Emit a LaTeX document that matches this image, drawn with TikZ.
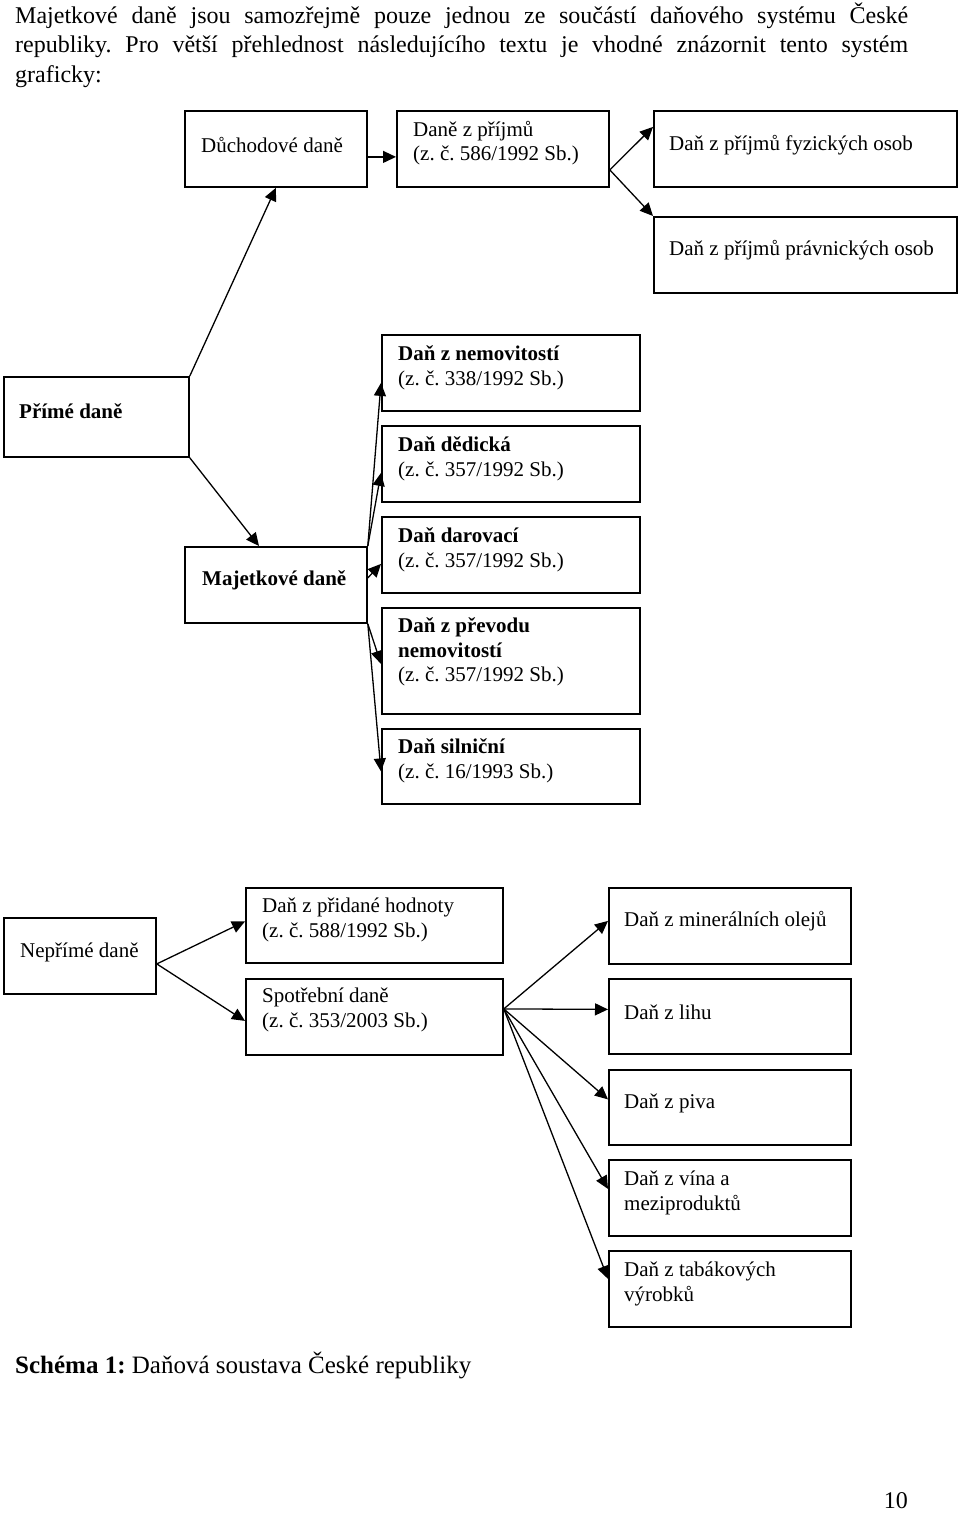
\documentclass[tikz,border=0pt]{standalone}
\usepackage{fontspec}
\setmainfont{Liberation Serif}
\usetikzlibrary{arrows.meta,calc}
\frenchspacing
\begin{document}
\begin{tikzpicture}[x=1pt,y=-1pt,
  box/.style={draw, line width=1.8pt, rectangle, inner sep=0pt, anchor=north west},
  lbl/.style={anchor=west, inner sep=0pt, align=left, font=\fontsize{21}{24.5}\selectfont},
  arr/.style={line width=1.3pt, -{Triangle[length=13pt,width=12pt]}},
  body/.style={anchor=base west, inner sep=0pt, font=\fontsize{24}{29}\selectfont}]
\useasboundingbox (0,0) rectangle (960,1513);

% body text
\node[body] (p1) at (15,23) {\makebox[893pt][s]{Majetkové daně jsou samozřejmě pouze jednou ze součástí daňového systému České}};
\node[body] (p2) at (15,52.5) {\makebox[893pt][s]{republiky. Pro větší přehlednost následujícího textu je vhodné znázornit tento systém}};
\node[body] (p3) at (15,82) {graficky:};

% top row
\node[box, minimum width=182pt, minimum height=76pt] (duch) at (184,110) {};
\node[lbl] (tduch) at ($(duch.north west)+(17,35)$) {Důchodové daně};
\node[box, minimum width=212pt, minimum height=76pt] (dane) at (396,110) {};
\node[lbl] (tdane) at ($(dane.north west)+(17,33)$) {Daně z příjmů\\(z. č. 586/1992 Sb.)};
\node[box, minimum width=303pt, minimum height=76pt] (fyz) at (653,110) {};
\node[lbl] (tfyz) at ($(fyz.north west)+(16,35)$) {Daň z příjmů fyzických osob};
\node[box, minimum width=303pt, minimum height=76pt] (prav) at (653,216) {};
\node[lbl] (tprav) at ($(prav.north west)+(16,34)$) {Daň z příjmů právnických osob};

% direct taxes
\node[box, minimum width=185pt, minimum height=80pt] (prime) at (3,376) {};
\node[lbl] (tprime) at ($(prime.north west)+(16,35)$) {\textbf{Přímé daně}};
\node[box, minimum width=182pt, minimum height=76pt] (majet) at (184,546) {};
\node[lbl] (tmajet) at ($(majet.north west)+(18,34)$) {\textbf{Majetkové daně}};

\node[box, minimum width=258pt, minimum height=76pt] (nem) at (381,334) {};
\node[lbl] (tnem) at ($(nem.north west)+(17,34)$) {\textbf{Daň z nemovitostí}\\(z. č. 338/1992 Sb.)};
\node[box, minimum width=258pt, minimum height=76pt] (ded) at (381,425) {};
\node[lbl] (tded) at ($(ded.north west)+(17,34)$) {\textbf{Daň dědická}\\(z. č. 357/1992 Sb.)};
\node[box, minimum width=258pt, minimum height=76pt] (dar) at (381,516) {};
\node[lbl] (tdar) at ($(dar.north west)+(17,34)$) {\textbf{Daň darovací}\\(z. č. 357/1992 Sb.)};
\node[box, minimum width=258pt, minimum height=106pt] (prev) at (381,607) {};
\node[lbl] (tprev) at ($(prev.north west)+(17,45)$) {\textbf{Daň z převodu}\\\textbf{nemovitostí}\\(z. č. 357/1992 Sb.)};
\node[box, minimum width=258pt, minimum height=75pt] (siln) at (381,728) {};
\node[lbl] (tsiln) at ($(siln.north west)+(17,33)$) {\textbf{Daň silniční}\\(z. č. 16/1993 Sb.)};

% indirect taxes
\node[box, minimum width=152pt, minimum height=76pt] (nep) at (3,917) {};
\node[lbl] (tnep) at ($(nep.north west)+(17,35)$) {Nepřímé daně};
\node[box, minimum width=257pt, minimum height=75pt] (dph) at (245,887) {};
\node[lbl] (tdph) at ($(dph.north west)+(17,33)$) {Daň z přidané hodnoty\\(z. č. 588/1992 Sb.)};
\node[box, minimum width=257pt, minimum height=76pt] (spot) at (245,978) {};
\node[lbl] (tspot) at ($(spot.north west)+(17,32)$) {Spotřební daně\\(z. č. 353/2003 Sb.)};

\node[box, minimum width=242pt, minimum height=76pt] (min) at (608,887) {};
\node[lbl] (tmin) at ($(min.north west)+(16,34)$) {Daň z minerálních olejů};
\node[box, minimum width=242pt, minimum height=75pt] (lih) at (608,978) {};
\node[lbl] (tlih) at ($(lih.north west)+(16,34)$) {Daň z lihu};
\node[box, minimum width=242pt, minimum height=75pt] (piv) at (608,1069) {};
\node[lbl] (tpiv) at ($(piv.north west)+(16,34)$) {Daň z piva};
\node[box, minimum width=242pt, minimum height=76pt] (vin) at (608,1159) {};
\node[lbl] (tvin) at ($(vin.north west)+(16,34)$) {Daň z vína a\\meziproduktů};
\node[box, minimum width=242pt, minimum height=76pt] (tab) at (608,1250) {};
\node[lbl] (ttab) at ($(tab.north west)+(16,34)$) {Daň z tabákových\\výrobků};

% connectors
\draw[arr] ($(duch.east)+(0,8)$) -- ($(dane.west)+(0,8)$);
\draw[arr] ($(dane.east)+(0,21)$) -- ($(fyz.west)+(0,-22)$);
\draw[arr] ($(dane.east)+(0,21)$) -- (prav.north west);
\draw[arr] (prime.north east) -- (duch.south);
\draw[arr] (prime.south east) -- ($(majet.north west)+(75,0)$);
\draw[arr] (majet.north east) -- ($(nem.west)+(0,10)$);
\draw[arr] (majet.north east) -- ($(ded.west)+(0,9)$);
\draw[arr] ($(majet.east)+(0,-7)$) -- ($(dar.west)+(0,9)$);
\draw[arr] (majet.south east) -- ($(prev.west)+(0,3)$);
\draw[arr] (majet.south east) -- ($(siln.west)+(0,5)$);
\draw[arr] ($(nep.east)+(0,8)$) -- ($(dph.west)+(0,-4)$);
\draw[arr] ($(nep.east)+(0,8)$) -- ($(spot.west)+(0,4)$);
\draw[arr] ($(spot.east)+(0,-8)$) -- ($(min.west)+(0,-5)$);
\draw[arr] ($(spot.east)+(0,-8)$) -- ($(lih.west)+(0,-7)$);
\draw[arr] ($(spot.east)+(0,-8)$) -- ($(piv.west)+(0,-8)$);
\draw[arr] ($(spot.east)+(0,-8)$) -- ($(vin.west)+(0,-9)$);
\draw[arr] ($(spot.east)+(0,-8)$) -- ($(tab.west)+(0,-10)$);

% caption and page number
\node[body, font=\fontsize{25}{30}\selectfont] (cap) at (15,1373) {\textbf{Schéma 1:} Daňová soustava České republiky};
\node[body, anchor=base east] (pg) at (908,1508) {10};
\end{tikzpicture}
\end{document}
